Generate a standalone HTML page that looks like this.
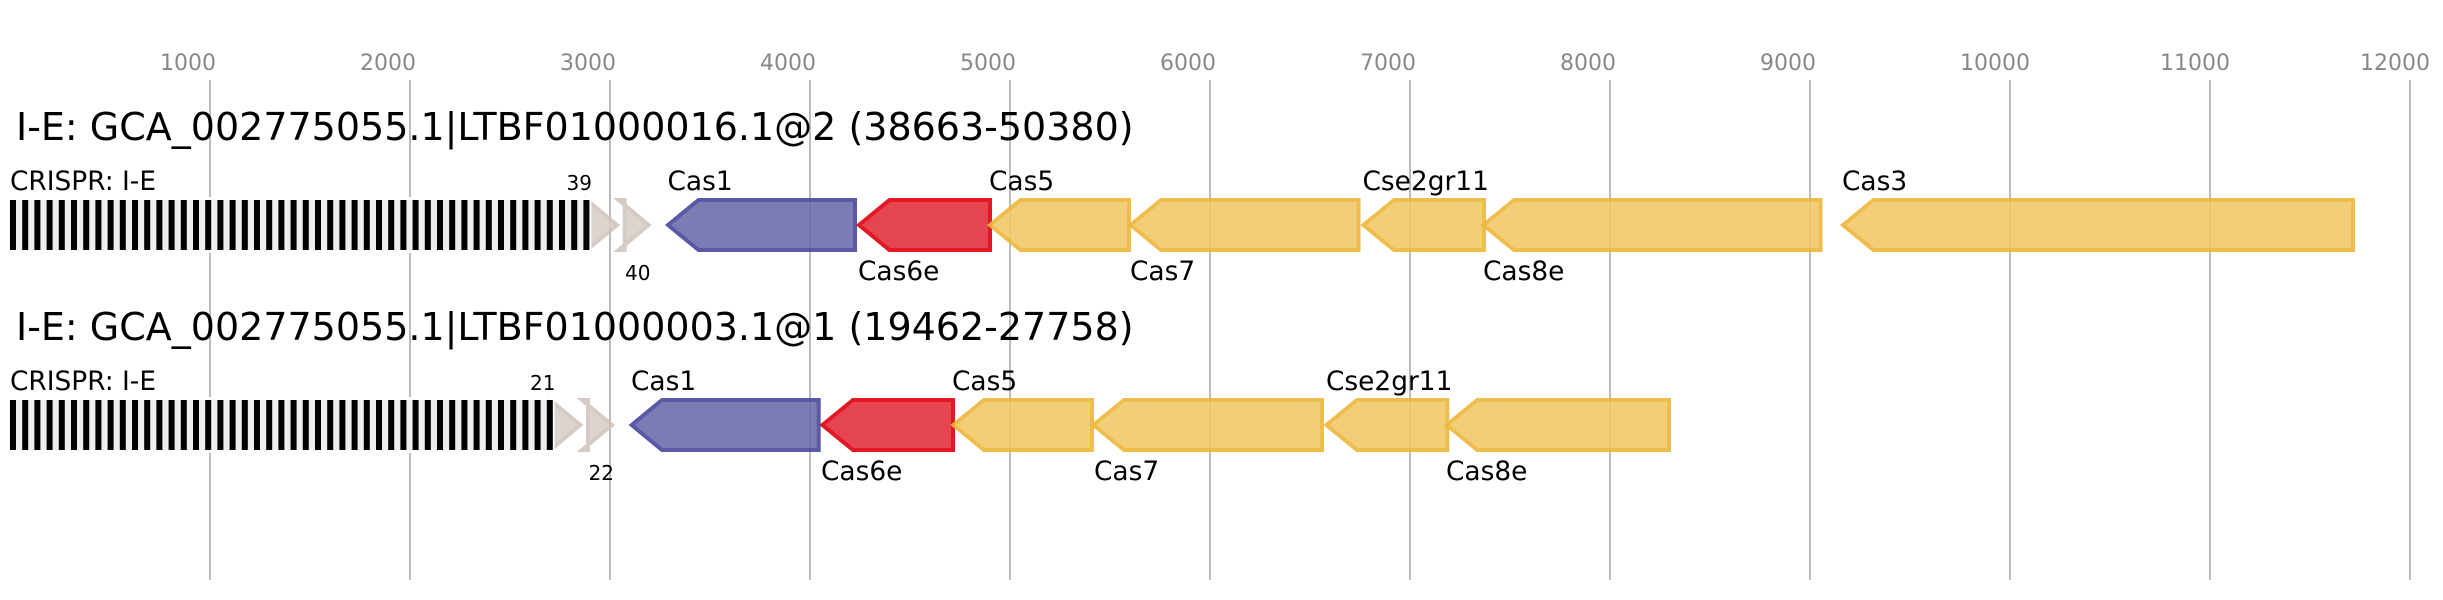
<!DOCTYPE html>
<html>
<head>
<meta charset="utf-8">
<style>
html,body{margin:0;padding:0;background:#fff}
svg{display:block}
text{font-family:"DejaVu Sans","Liberation Sans",sans-serif}
.t{font-size:22px;fill:#888}
.h{font-size:38px;fill:#000}
.l{font-size:26.4px;fill:#000}
.n{font-size:20px;fill:#000}
.y{fill:#f1c96a;stroke:#edb63b;stroke-width:4;opacity:.9}
.r{fill:#e3303f;stroke:#df000e;stroke-width:4;opacity:.9}
.b{fill:#6e6ead;stroke:#48489e;stroke-width:4;opacity:.9}
.g{fill:#d6cdc7;stroke:#cfc3ba;stroke-width:4;opacity:.85}
</style>
</head>
<body>
<svg width="2443" height="600" viewBox="0 0 2443 600" xmlns="http://www.w3.org/2000/svg">
<rect width="2443" height="600" fill="#fff"/>
<g stroke="#bdbdbd" stroke-width="2">
<line x1="210" y1="80" x2="210" y2="580"/>
<line x1="410" y1="80" x2="410" y2="580"/>
<line x1="610" y1="80" x2="610" y2="580"/>
<line x1="810" y1="80" x2="810" y2="580"/>
<line x1="1010" y1="80" x2="1010" y2="580"/>
<line x1="1210" y1="80" x2="1210" y2="580"/>
<line x1="1410" y1="80" x2="1410" y2="580"/>
<line x1="1610" y1="80" x2="1610" y2="580"/>
<line x1="1810" y1="80" x2="1810" y2="580"/>
<line x1="2010" y1="80" x2="2010" y2="580"/>
<line x1="2210" y1="80" x2="2210" y2="580"/>
<line x1="2410" y1="80" x2="2410" y2="580"/>
</g>
<g class="t">
<text class="t" x="160" y="70">1000</text>
<text class="t" x="360" y="70">2000</text>
<text class="t" x="560" y="70">3000</text>
<text class="t" x="760" y="70">4000</text>
<text class="t" x="960" y="70">5000</text>
<text class="t" x="1160" y="70">6000</text>
<text class="t" x="1360" y="70">7000</text>
<text class="t" x="1560" y="70">8000</text>
<text class="t" x="1760" y="70">9000</text>
<text class="t" x="1960" y="70">10000</text>
<text class="t" x="2160" y="70">11000</text>
<text class="t" x="2360" y="70">12000</text>
</g>

<text class="h" x="16" y="140">I-E: GCA_002775055.1|LTBF01000016.1@2 (38663-50380)</text>
<text class="l" x="10" y="190">CRISPR: I-E</text>
<polygon class="g" points="587,200 617,225 587,250"/>
<polygon class="g" points="624.7,200 618.6,200 648.6,225 618.6,250 624.7,250"/>
<rect x="8" y="197" width="583.3" height="56" fill="#fff"/>
<rect x="10" y="200" width="580" height="50" fill="#eee"/>
<line x1="10" y1="225" x2="590" y2="225" stroke="#000" stroke-width="50" stroke-dasharray="6 6.2"/>
<text class="n" x="592" y="190" text-anchor="end">39</text>
<text class="n" x="625" y="280">40</text>
<polygon class="b" points="668,225 698.5,200 855,200 855,250 698.5,250"/>
<polygon class="r" points="859,225 889.5,200 990,200 990,250 889.5,250"/>
<polygon class="y" points="1130.7,225 1161,200 1358.5,200 1358.5,250 1161,250"/>
<polygon class="y" points="990,225 1020.5,200 1129,200 1129,250 1020.5,250"/>
<polygon class="y" points="1363.4,225 1394,200 1484,200 1484,250 1394,250"/>
<polygon class="y" points="1483.4,225 1514,200 1820.5,200 1820.5,250 1514,250"/>
<polygon class="y" points="1843,225 1873.5,200 2353,200 2353,250 1873.5,250"/>
<text class="l" x="667.5" y="190">Cas1</text>
<text class="l" x="858" y="280">Cas6e</text>
<text class="l" x="989" y="190">Cas5</text>
<text class="l" x="1130" y="280">Cas7</text>
<text class="l" x="1362.5" y="190">Cse2gr11</text>
<text class="l" x="1483" y="280">Cas8e</text>
<text class="l" x="1842" y="190">Cas3</text>

<text class="h" x="16" y="340">I-E: GCA_002775055.1|LTBF01000003.1@1 (19462-27758)</text>
<text class="l" x="10" y="390">CRISPR: I-E</text>
<polygon class="g" points="550.3,400 580.3,425 550.3,450"/>
<polygon class="g" points="588,400 582,400 612,425 582,450 588,450"/>
<rect x="8" y="397" width="546.7" height="56" fill="#fff"/>
<rect x="10" y="400" width="543.3" height="50" fill="#eee"/>
<line x1="10" y1="425" x2="553.3" y2="425" stroke="#000" stroke-width="50" stroke-dasharray="6 6.2"/>
<text class="n" x="555.5" y="390" text-anchor="end">21</text>
<text class="n" x="588.5" y="480">22</text>
<polygon class="b" points="631.7,425 662,400 818.7,400 818.7,450 662,450"/>
<polygon class="r" points="822.4,425 853,400 953,400 953,450 853,450"/>
<polygon class="y" points="1093.4,425 1124,400 1322,400 1322,450 1124,450"/>
<polygon class="y" points="953.4,425 984,400 1092,400 1092,450 984,450"/>
<polygon class="y" points="1326.4,425 1357,400 1447.3,400 1447.3,450 1357,450"/>
<polygon class="y" points="1446.7,425 1477.3,400 1669,400 1669,450 1477.3,450"/>
<text class="l" x="631" y="390">Cas1</text>
<text class="l" x="821" y="480">Cas6e</text>
<text class="l" x="952" y="390">Cas5</text>
<text class="l" x="1094" y="480">Cas7</text>
<text class="l" x="1326" y="390">Cse2gr11</text>
<text class="l" x="1446" y="480">Cas8e</text>
</svg>
</body>
</html>
